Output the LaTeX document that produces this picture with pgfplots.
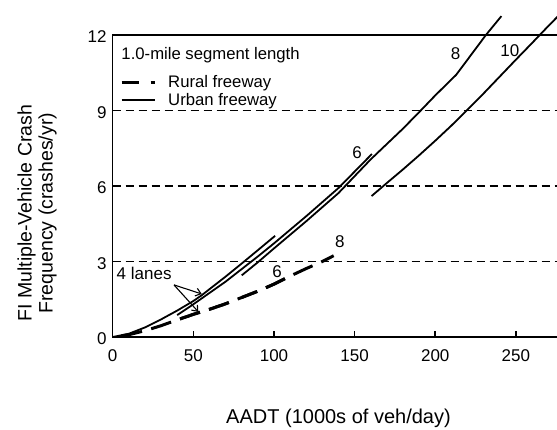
\documentclass[border=0pt]{standalone}
\usepackage{fontspec}
\setmainfont{Liberation Sans}
\usepackage{pgfplots}
\pgfplotsset{compat=1.18}
\usetikzlibrary{arrows.meta}

\begin{document}
\begin{tikzpicture}
\begin{axis}[
  scale only axis,
  width=451.6bp, height=302bp,
  at={(0,0)}, anchor=south west,
  xmin=0, xmax=280, ymin=0, ymax=12,
  xtick={0,50,...,250}, ytick={0,3,...,12},
  xtick pos=bottom, ytick pos=left,
  tick align=inside,
  major tick length=6bp,
  tick style={black, line width=1.6bp},
  axis line style={black, line width=1.6bp},
  ymajorgrids,
  grid style={black, line width=1.6bp, dash pattern=on 8bp off 5bp},
  clip=false,
  /pgf/number format/assume math mode=true,
  ticklabel style={font=\fontsize{17bp}{20bp}\selectfont, inner sep=0pt},
  xticklabel style={anchor=north, yshift=-12bp},
  yticklabel style={anchor=east, xshift=-6bp, yshift=-2bp},
  xlabel={AADT (1000s of veh/day)},
  ylabel={FI Multiple-Vehicle Crash\\Frequency (crashes/yr)},
  every axis x label/.style={at={(axis description cs:0.5,-0.268)}, anchor=center,
    font=\fontsize{20bp}{24bp}\selectfont},
  every axis y label/.style={at={(axis description cs:-0.1676,0.41)}, anchor=center,
    rotate=90, align=center, font=\fontsize{19.5bp}{21bp}\selectfont},
  legend style={at={(axis description cs:0.0162,0.866)}, anchor=north west,
    draw=none, fill=none, inner sep=0pt, row sep=4bp, column sep=12bp,
    font=\fontsize{16.7bp}{19bp}\selectfont, nodes={inner sep=0pt}},
  legend cell align=left,
  legend image code/.code={\draw[#1] (0bp,0bp) -- (33bp,0bp);},
]

% urban freeway, 4 / 6 / 8 / 10 lanes
\addplot[black, line width=1.8bp, forget plot] coordinates {
  (0,0) (10,0.13) (20,0.38) (30,0.7) (40,1.05) (50,1.43) (55,1.65)
  (60,1.9) (70,2.4) (80,2.92) (90,3.45) (100.7,4.02)
};
\addplot[black, line width=1.8bp, forget plot] coordinates {
  (40,0.87) (50,1.3) (60,1.75) (70,2.2) (80,2.7) (90,3.2) (100,3.72)
  (120,4.8) (140,5.92) (160.7,7.27)
};
\addplot[black, line width=1.8bp, forget plot] coordinates {
  (80,2.45) (90,2.97) (100,3.52) (120,4.6) (140,5.72) (160,7.06)
  (180,8.28) (191,9.0) (200,9.6) (213,10.42) (231.4,12.0) (241,12.75)
};
\addplot[black, line width=1.8bp, forget plot] coordinates {
  (160.5,5.6) (170,6.12) (180,6.66) (190,7.22) (200,7.8) (210,8.4)
  (219.5,9.0) (230,9.68) (240,10.35) (250,11.02) (260,11.68) (270,12.35) (280,13.0)
};

% rural freeway, 4 / 6 / 8 lanes (same path where they overlap, dash phases lined up)
\addplot[black, line width=3bp, dash pattern=on 21bp off 9.5bp, dash phase=21.6bp, forget plot] coordinates {
  (0,0) (10,0.09) (20,0.25) (30,0.45) (40,0.68) (50,0.9) (60,1.1) (70,1.32) (72,1.37)
};
\addplot[black, line width=3bp, dash pattern=on 21bp off 9.5bp, dash phase=27.56bp, forget plot] coordinates {
  (40,0.68) (50,0.9) (60,1.1) (70,1.32) (80,1.57) (90,1.82) (100,2.1) (110,2.42)
};
\addplot[black, line width=3bp, dash pattern=on 21bp off 9.5bp, dash phase=4.37bp, forget plot] coordinates {
  (80,1.57) (90,1.82) (100,2.1) (110,2.42) (120,2.72) (130,3.0) (137,3.23)
};

\addlegendimage{black, line width=3bp, dash pattern=on 17bp off 12bp}
\addlegendentry{Rural freeway}
\addlegendimage{black, line width=1.8bp}
\addlegendentry{Urban freeway}

\node[anchor=west, inner sep=0pt, font=\fontsize{16.7bp}{19bp}\selectfont]
  at (axis description cs:0.019,0.934) {1.0-mile segment length};

\begin{scope}[font=\fontsize{17bp}{19bp}\selectfont, inner sep=0pt]
  \node at (axis cs:151.5,7.31) {6};
  \node at (axis cs:212.6,11.27) {8};
  \node at (axis cs:246.3,11.37) {10};
  \node at (axis cs:102,2.59) {6};
  \node at (axis cs:140.9,3.79) {8};
  \node at (axis cs:19.5,2.53) {4 lanes};
\end{scope}
\draw[black, line width=1.1bp, -{Straight Barb[length=5bp,width=8bp]}]
  (axis cs:38,2.07) -- (axis cs:55.2,1.71);
\draw[black, line width=1.1bp, -{Straight Barb[length=5bp,width=8bp]}]
  (axis cs:38,2.07) -- (axis cs:53.1,1.0);

\end{axis}
\pgfresetboundingbox
\path (-112.7bp,-93bp) rectangle (444.3bp,337bp);
\end{tikzpicture}
\end{document}
